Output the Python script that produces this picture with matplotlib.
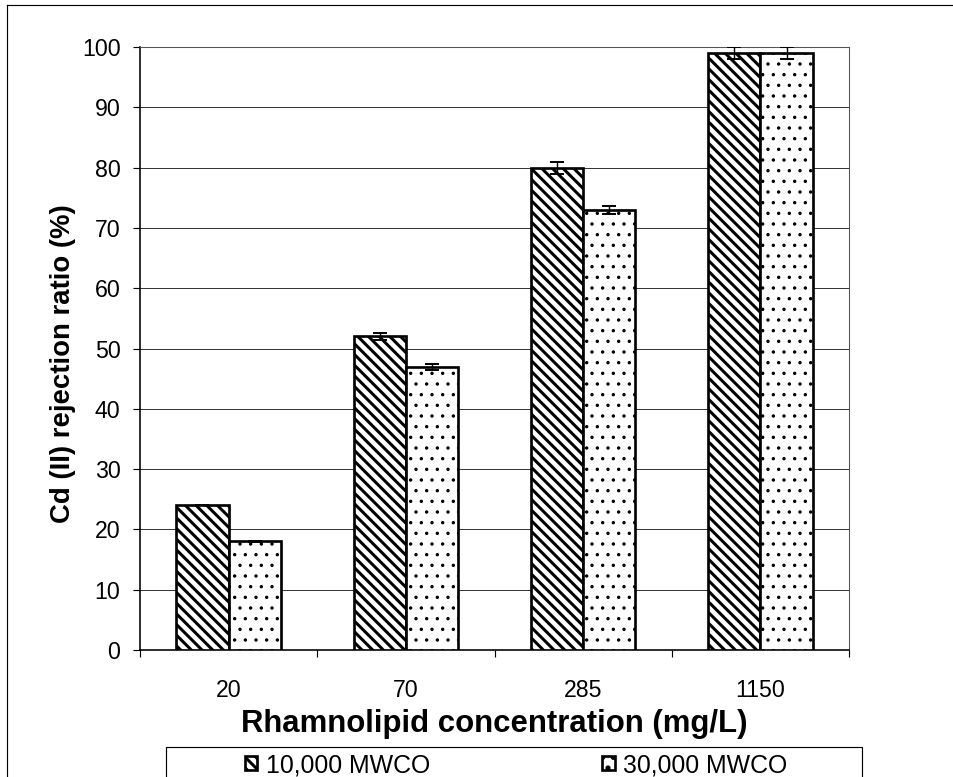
import matplotlib.pyplot as plt
import numpy as np
from matplotlib.lines import Line2D
from matplotlib.patches import Rectangle

# Cd(II) rejection by ultrafiltration membranes at several rhamnolipid doses
concentrations = ['20', '70', '285', '1150']
rej_10k = [24, 52, 80, 99]
err_10k = [0.0, 0.6, 1.0, 1.0]
rej_30k = [18, 47, 73, 99]
err_30k = [0.15, 0.5, 0.7, 1.0]
series_names = ['10,000 MWCO', '30,000 MWCO']

DPI = 64
W, H = 953, 777
plt.rcParams['font.family'] = ['Liberation Sans', 'DejaVu Sans']
plt.rcParams['hatch.color'] = 'black'
plt.rcParams['hatch.linewidth'] = 3.4


def fx(px):
    return px / W


def fy(py):
    return 1 - py / H


fig = plt.figure(figsize=(W / DPI, H / DPI), dpi=DPI)
ax = fig.add_axes([fx(140), fy(650), fx(849 - 140), (650 - 47) / H])

x = np.arange(len(concentrations))
w = 0.295

b1 = ax.bar(x - w / 2, rej_10k, w, facecolor='white', edgecolor='black',
            linewidth=3.0, hatch='\\\\', label=series_names[0], zorder=3)
b2 = ax.bar(x + w / 2, rej_30k, w, facecolor='white', edgecolor='black',
            linewidth=3.0, hatch='.', label=series_names[1], zorder=3)
for p in b2:
    if hasattr(p, 'set_hatch_linewidth'):
        p.set_hatch_linewidth(1.4)

ax.errorbar(x - w / 2, rej_10k, yerr=err_10k, fmt='none', ecolor='black',
            elinewidth=1.6, capsize=8, capthick=2.2, zorder=4)
ax.errorbar(x + w / 2, rej_30k, yerr=err_30k, fmt='none', ecolor='black',
            elinewidth=1.6, capsize=8, capthick=2.2, zorder=4)

ax.set_xlim(-0.5, len(concentrations) - 0.5)
ax.set_ylim(0, 100)
ax.set_yticks(np.arange(0, 101, 10))
ax.yaxis.grid(True, color='#333333', linewidth=1.1)
ax.set_axisbelow(True)

# category labels centred, tick marks on the boundaries
ax.set_xticks(x)
ax.set_xticklabels(concentrations, fontsize=26)
ax.tick_params(axis='x', length=0, pad=33)
ax.set_xticks(np.arange(-0.5, len(concentrations)), minor=True)
ax.tick_params(axis='x', which='minor', length=8, width=1.3, direction='out')
ax.tick_params(axis='y', labelsize=26, length=8, width=1.3, direction='out', pad=14)

for side in ('top', 'right'):
    ax.spines[side].set_color('#555555')
    ax.spines[side].set_linestyle((0, (1, 1)))
    ax.spines[side].set_linewidth(1.2)
for side in ('left', 'bottom'):
    ax.spines[side].set_linewidth(1.8)

ax.set_xlabel('Rhamnolipid concentration (mg/L)', fontsize=35, fontweight='bold', labelpad=8)
ax.set_ylabel('Cd (II) rejection ratio (%)', fontsize=31, fontweight='bold', labelpad=7)
ax.yaxis.label.set_y(0.475)

# legend: frame drawn separately so the entries can sit where they belong
fig.add_artist(Rectangle((fx(166), fy(790)), fx(862 - 166), (790 - 747) / H,
                         transform=fig.transFigure, facecolor='none',
                         edgecolor='black', linewidth=1.3))
fig.legend(handles=[b1, b2], loc='center left', ncol=2, frameon=False,
           bbox_to_anchor=(fx(245), fy(765)), fontsize=28,
           handlelength=0.5, handleheight=0.5, handletextpad=0.35,
           columnspacing=6.9, borderpad=0, borderaxespad=0)

# thin frame round the figure (left and top edges)
fig.add_artist(Line2D([fx(7), fx(7)], [0, fy(5)], color='black', linewidth=1.3))
fig.add_artist(Line2D([fx(7), 1], [fy(5), fy(5)], color='black', linewidth=1.3))

fig.savefig('out.png', dpi=DPI)
